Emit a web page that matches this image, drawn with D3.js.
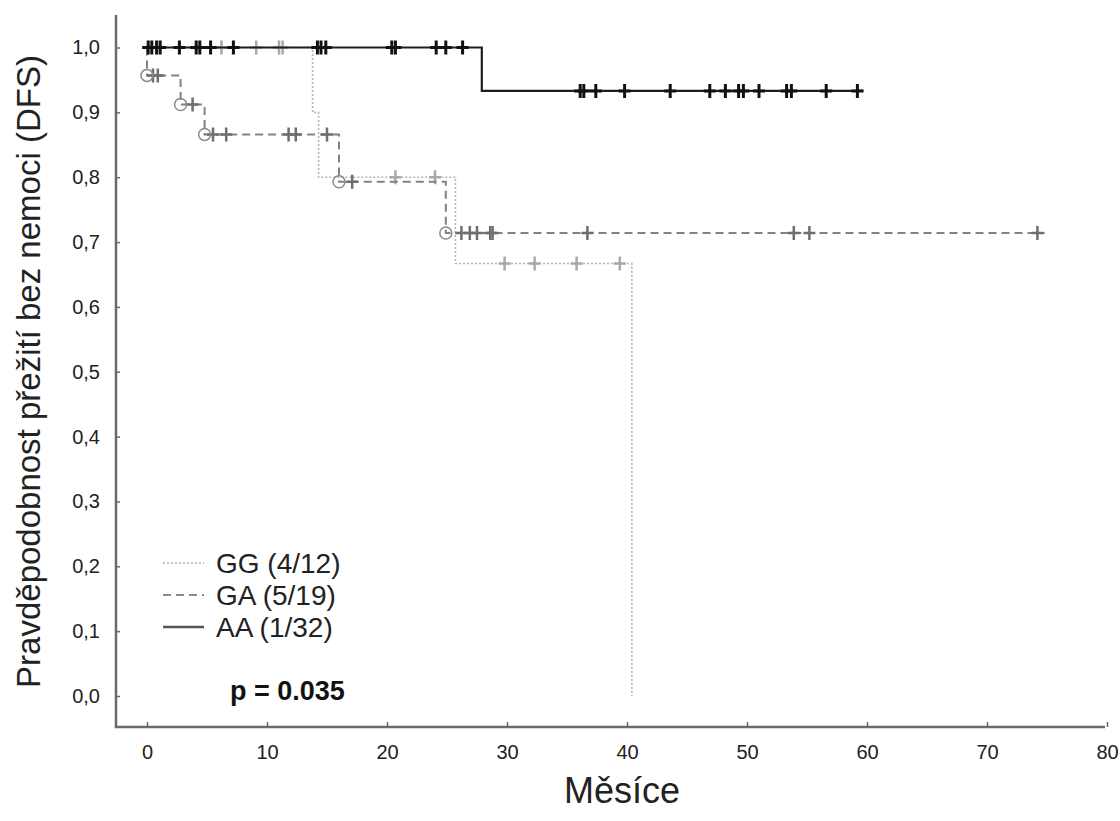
<!DOCTYPE html>
<html>
<head>
<meta charset="utf-8">
<script src="https://cdn.jsdelivr.net/npm/d3@7"></script>
<style>
  body { margin: 0; background: #fff; }
  svg { display: block; font-family: "Liberation Sans", Arial, sans-serif; }
</style>
</head>
<body>
<div id="chart"></div>
<script>
// Kaplan-Meier steps: [month, survival]
const ggSteps = [[0, 1.0], [13.8, 0.9], [14.3, 0.8], [25.7, 0.667], [40.4, 0.0]];
const gaSteps = [[0, 1.0], [0, 0.957], [2.8, 0.912], [4.8, 0.866], [16.0, 0.793], [24.9, 0.714]];
const aaSteps = [[0, 1.0], [27.9, 0.933]];
const ggEnd = 40.4, gaEnd = 74.8, aaEnd = 59.7;

// censored observations: [month, survival]
const ggCensored = [[6.2, 1], [9.1, 1], [11.0, 1], [11.3, 1],
    [20.7, 0.8], [24.0, 0.8],
    [29.8, 0.667], [32.3, 0.667], [35.8, 0.667], [39.4, 0.667]];
const gaCensored = [[0.5, 0.957], [0.9, 0.957], [3.8, 0.912],
    [5.5, 0.866], [6.6, 0.866], [11.8, 0.866], [12.4, 0.866], [15.0, 0.866],
    [17.1, 0.793],
    [26.2, 0.714], [26.9, 0.714], [27.5, 0.714], [28.6, 0.714], [28.8, 0.714],
    [36.7, 0.714], [53.9, 0.714], [55.2, 0.714], [74.2, 0.714]];
const aaCensored = [[0.1, 1], [0.4, 1], [0.8, 1], [1.1, 1], [2.7, 1], [4.1, 1], [4.4, 1],
    [5.3, 1], [7.2, 1], [14.2, 1], [14.5, 1], [14.9, 1], [20.4, 1], [20.7, 1],
    [24.1, 1], [24.9, 1], [26.3, 1],
    [36.1, 0.933], [36.4, 0.933], [37.4, 0.933], [39.8, 0.933], [43.6, 0.933],
    [46.9, 0.933], [48.2, 0.933], [49.3, 0.933], [49.7, 0.933], [51.0, 0.933],
    [53.3, 0.933], [53.7, 0.933], [56.6, 0.933], [59.2, 0.933]];
// events marked with circles (GA only)
const gaEvents = gaSteps.slice(1);

const legendLabels = ["GG (4/12)", "GA (5/19)", "AA (1/32)"];
const xTicks = [0, 10, 20, 30, 40, 50, 60, 70, 80];
const yTicks = [0, 0.1, 0.2, 0.3, 0.4, 0.5, 0.6, 0.7, 0.8, 0.9, 1.0];

const width = 1120, height = 821;

const svg = d3.select("#chart").append("svg")
    .attr("width", width)
    .attr("height", height);

const x = d3.scaleLinear().domain([0, 80]).range([147, 1107]);
const y = d3.scaleLinear().domain([0, 1]).range([696, 47.5]);

const axisColor = "#6a6a6a";

// Axes
svg.append("g")
    .attr("transform", "translate(116,0)")
    .call(d3.axisLeft(y).tickValues(yTicks).tickSize(-4).tickPadding(16)
        .tickFormat(d => d3.format(".1f")(d).replace(".", ",")))
    .call(g => g.select(".domain").remove())
    .call(g => g.selectAll("line").attr("stroke", axisColor).attr("stroke-width", 1.5))
    .call(g => g.selectAll("text").attr("font-size", 20).attr("fill", "#222")
        .attr("font-family", "Liberation Sans, Arial, sans-serif"));

svg.append("g")
    .attr("transform", "translate(0,727)")
    .call(d3.axisBottom(x).tickValues(xTicks).tickSize(-5).tickPadding(18))
    .call(g => g.select(".domain").remove())
    .call(g => g.selectAll("line").attr("stroke", axisColor).attr("stroke-width", 1.5))
    .call(g => g.selectAll("text").attr("font-size", 20).attr("fill", "#222")
        .attr("font-family", "Liberation Sans, Arial, sans-serif"));

svg.append("path")
    .attr("d", "M116,15 V727 H1105")
    .attr("fill", "none")
    .attr("stroke", axisColor)
    .attr("stroke-width", 2.5);

// Axis titles
svg.append("text")
    .attr("transform", `translate(40,${(47 + 696) / 2}) rotate(-90)`)
    .attr("text-anchor", "middle")
    .attr("font-size", 33)
    .attr("fill", "#222")
    .text("Pravděpodobnost přežití bez nemoci (DFS)");

svg.append("text")
    .attr("x", 622)
    .attr("y", 803)
    .attr("text-anchor", "middle")
    .attr("font-size", 36)
    .attr("fill", "#222")
    .text("Měsíce");

// Step line generator
const stepLine = d3.line().x(d => x(d[0])).y(d => y(d[1])).curve(d3.curveStepAfter);

function drawGroup(steps, end, censored, color, width, dash, crossColor, crossWidth) {
    const pts = steps.concat([[end, steps[steps.length - 1][1]]]);
    svg.append("path")
        .datum(pts)
        .attr("fill", "none")
        .attr("stroke", color)
        .attr("stroke-width", width)
        .attr("stroke-dasharray", dash)
        .attr("d", stepLine);

    svg.append("g").selectAll("path")
        .data(censored)
        .enter()
        .append("path")
        .attr("d", d => {
            const cx = x(d[0]), cy = y(d[1]);
            return `M${cx - 6},${cy} H${cx + 6} M${cx},${cy - 7} V${cy + 7}`;
        })
        .attr("stroke", crossColor)
        .attr("stroke-width", crossWidth)
        .attr("fill", "none");
}

drawGroup(ggSteps, ggEnd, ggCensored, "#b4b4b4", 1.6, "2,2", "#a8a8a8", 2.5);
drawGroup(gaSteps, gaEnd, gaCensored, "#828282", 2, "8,5", "#6e6e6e", 2.5);

svg.append("g").selectAll("circle")
    .data(gaEvents)
    .enter()
    .append("circle")
    .attr("cx", d => x(d[0]))
    .attr("cy", d => y(d[1]))
    .attr("r", 6)
    .attr("fill", "none")
    .attr("stroke", "#8a8a8a")
    .attr("stroke-width", 1.5);

drawGroup(aaSteps, aaEnd, aaCensored, "#1e1e1e", 2.2, null, "#111", 3);

// Legend
const legendStyles = [
    {color: "#b4b4b4", dash: "2,2", w: 1.6},
    {color: "#8a8a8a", dash: "8,5", w: 2},
    {color: "#555", dash: null, w: 2.5}
];
const legend = svg.append("g");
legendLabels.forEach((label, i) => {
    const ly = 563 + i * 32;
    legend.append("line")
        .attr("x1", 163).attr("x2", 204)
        .attr("y1", ly).attr("y2", ly)
        .attr("stroke", legendStyles[i].color)
        .attr("stroke-width", legendStyles[i].w)
        .attr("stroke-dasharray", legendStyles[i].dash);
    legend.append("text")
        .attr("x", 216)
        .attr("y", ly + 10)
        .attr("font-size", 28)
        .attr("fill", "#222")
        .text(label);
});

svg.append("text")
    .attr("x", 230)
    .attr("y", 700)
    .attr("font-size", 27)
    .attr("font-weight", "bold")
    .attr("font-family", "Liberation Sans Narrow, Arial Narrow, Liberation Sans, sans-serif")
    .attr("fill", "#111")
    .text("p = 0.035");
</script>
</body>
</html>
